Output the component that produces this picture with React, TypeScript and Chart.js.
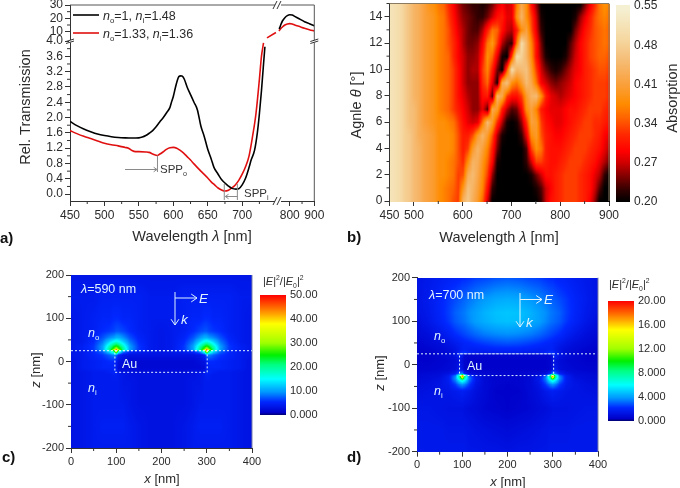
import React, { useEffect, useRef } from "react";
import { Chart, LinearScale, registerables } from "chart.js";

// ---------- panel a data ----------
const blackWavelength = [450,460,470,480,490,500,510,520,530,540,550,555,560,565,570,575,580,585,590,595,597,600,603,606,608,611,613,616,620,625,630,635,640,645,650,655,659,665,670,675,680,685,691,695,700,705,710,713,718,722,725,728,731,733,745,757,762,770,780,790,800,810,820,840,860,880,900];
const blackValues = [1.9,1.79,1.7,1.63,1.57,1.53,1.5,1.48,1.47,1.465,1.47,1.49,1.53,1.59,1.66,1.76,1.88,1.99,2.12,2.26,2.38,2.55,2.78,2.98,3.07,3.09,3.08,3.0,2.8,2.6,2.4,2.2,1.78,1.5,1.17,0.92,0.7,0.52,0.38,0.29,0.21,0.15,0.13,0.14,0.24,0.42,0.7,0.89,1.15,1.6,2.1,2.7,3.4,3.85,null,12,14.5,18,20.5,22,22.7,22.5,21.5,19.5,17.5,16,14.5];
const redWavelength = [450,460,470,480,490,500,510,520,530,535,540,545,550,560,565,570,577,580,585,590,595,600,605,610,615,620,625,630,640,650,655,660,665,670,675,680,685,690,695,700,705,710,715,720,725,728,731,734,736,749,752,756,762,770,780,790,800,810,820,840,860,880,900];
const redValues = [1.66,1.58,1.51,1.45,1.39,1.33,1.29,1.26,1.22,1.2,1.14,1.11,1.11,1.1,1.09,1.05,1.01,1.04,1.1,1.17,1.21,1.22,1.2,1.14,1.07,0.98,0.89,0.79,0.6,0.42,0.32,0.24,0.16,0.11,0.08,0.1,0.16,0.24,0.36,0.52,0.72,1.0,1.5,2.1,3.0,3.6,3.95,null,5.3,9.4,null,10.5,12,13.5,15,15.8,16,15.8,15,13.8,12.6,11.5,10.5];
const aXTicks = [450,500,550,600,650,700,800,900];
const aXMinor = [475,525,575,625,675,725,850];
const aYTicks = [0,0.4,0.8,1.2,1.6,2,2.4,2.8,3.2,3.6,4,10,20,30];
const aYMinor = [0.2,0.6,1,1.4,1.8,2.2,2.6,3,3.4,3.8,15,25];

// ---------- panel b data ----------
const bWavelengths = [450,460,470,480,490,500,510,520,530,540,550,560,570,580,590,600,610,620,630,640,650,660,670,680,690,700,710,720,730,740,750,760,770,780,790,800,810,820,830,840,850,860,870,880,890,900];
const bAngles = [0,1,2,3,4,5,6,7,8,9,10,11,12,13,14,15];
const bAbsorption = [
  [52,51,50,48,47,45,44,42,41,40, 38,37,36,34,33,44,47,43,40,35, 27,20,20,20,20,20,20,20,20,20, 20,22,27,30,31,32,33,33,33,32, 31,29,25,20,20,20],
  [52,51,50,48,47,45,44,42,41,40, 38,37,36,35,33,39,46,44,41,37, 30,22,20,20,20,20,20,20,20,20, 21,23,27,29,31,32,33,33,33,32, 31,30,27,23,20,20],
  [52,51,50,48,47,45,44,42,41,40, 38,38,37,36,33,34,43,45,42,38, 33,25,20,20,20,20,20,20,20,21, 24,27,30,30,31,32,33,33,33,32, 31,30,28,26,22,20],
  [52,51,50,48,47,45,44,42,41,40, 38,38,37,36,34,32,38,44,43,39, 35,29,21,20,20,20,20,20,22,27, 33,33,31,30,30,31,32,33,33,33, 32,31,30,28,26,24],
  [52,51,50,48,47,45,44,42,41,40, 38,38,38,37,34,31,33,40,44,41, 37,31,24,20,20,20,20,20,23,33, 38,36,31,30,30,30,31,32,33,33, 33,32,31,30,28,26],
  [52,51,50,48,47,45,43,42,41,40, 38,38,38,37,34,31,31,34,40,44, 40,34,26,21,20,20,20,22,28,38, 40,34,31,30,29,29,30,31,32,33, 33,33,32,31,29,28],
  [52,51,50,48,46,45,43,41,40,39, 38,38,37,36,33,30,28,27,28,36, 45,40,32,26,21,20,21,25,32,41, 40,33,30,29,28,28,29,30,31,32, 33,33,32,32,31,30],
  [52,51,50,48,46,45,43,41,40,39, 37,36,35,33,31,29,27,25,25,28, 23,42,40,31,26,23,24,29,38,41, 37,31,29,28,28,28,29,30,30,31, 32,33,33,33,32,31],
  [52,51,50,48,46,44,43,41,40,39, 37,36,35,33,30,28,26,25,25,30, 31,23,44,42,33,30,30,33,40,44, 45,38,31,28,27,26,27,28,29,30, 31,32,33,33,33,32],
  [52,51,50,48,46,44,43,41,40,39, 37,36,35,33,30,27,25,25,25,32, 35,28,21,42,46,38,36,40,45,42, 36,29,27,25,24,25,26,27,29,30, 31,32,33,33,33,32],
  [52,51,50,48,46,44,43,41,40,39, 37,36,35,33,30,27,25,26,26,33, 37,31,24,20,34,50,44,45,46,40, 33,27,24,22,21,22,24,26,28,29, 31,32,33,34,34,33],
  [52,51,50,48,46,44,43,41,40,39, 37,36,35,32,29,27,25,25,26,31, 38,35,28,21,20,33,50,48,44,38, 30,25,21,20,20,20,21,24,27,29, 31,33,34,35,35,34],
  [52,51,50,48,46,44,43,41,40,39, 37,36,34,32,29,26,24,24,25,29, 36,39,33,26,23,22,36,50,44,37, 30,24,20,20,20,20,20,23,26,29, 31,33,34,35,36,35],
  [52,51,50,48,46,44,43,41,40,39, 37,36,34,31,28,26,24,23,23,26, 31,36,35,30,27,26,31,38,41,34, 28,22,20,20,20,20,20,20,24,27, 30,32,34,35,36,35],
  [52,51,50,48,46,44,43,41,40,39, 37,36,33,30,27,25,24,23,22,22, 24,27,30,31,28,28,38,44,38,33, 27,21,20,20,20,20,20,20,21,25, 28,31,34,36,37,36],
  [52,51,50,48,46,44,43,41,39,38, 36,35,32,29,26,24,23,22,22,21, 22,24,27,29,27,28,36,42,38,30, 25,20,20,20,20,20,20,20,20,20, 24,28,32,36,38,37],
];
const bXTicks = [450,500,600,700,800,900];
const bXMinor = [550,650,750,850];
const bYTicks = [0,2,4,6,8,10,12,14];
const bYMinor = [1,3,5,7,9,11,13,15];
const bBarTicks = [0.2,0.27,0.34,0.41,0.48,0.55];

// ---------- panels c and d data ----------
const fieldX = [0,25,50,70,85,95,100,105,115,130,150,175,200,225,250,270,285,295,300,305,315,330,350,375,400];
const cZ = [200,150,100,70,55,45,35,30,27,24,15,0,-15,-25,-30,-50,-100,-150,-200];
const cField = [
  [3.5,3.5,3.5,3.5,3.5,3.5,3.5,3.5,3.5,3.5,3.5,3.5,3.5,3.5,3.5,3.5,3.5,3.5,3.5,3.5,3.5,3.5,3.5,3.5,3.5],
  [4,4,4,4.5,4.5,4.5,4.5,4.5,4.5,4.5,4.5,4,4,4,4.5,4.5,4.5,4.5,4.5,4.5,4.5,4.5,4.5,4,4],
  [3.5,4,4.5,5,5,5.5,5.5,5.5,5,5,4.5,4,4,4,4.5,5,5,5.5,5.5,5.5,5,5,4.5,4,3.5],
  [3.5,4,4.5,5.5,6,6.5,7,7,6.5,5.5,4.5,4,3.5,4,4.5,5.5,6.5,7,7,6.5,6,5.5,4.5,4,3.5],
  [3.5,4,5,7,9,10,11,11,9.5,7,5,4,3.5,4,5,7,9.5,11,11,10,9,7,5,4,3.5],
  [3.5,4,5.5,8.5,13,16,17,16,13,8.5,5.5,4,3.5,4,5.5,8.5,13,16,17,16,13,8.5,5.5,4,3.5],
  [3.5,4.5,6,10,18,24,26,24,18,10,6,4,3.5,4,6,10,18,24,26,24,18,10,6,4.5,3.5],
  [3.5,4.5,6,10,20,27,32,27,20,10,6,4,3.5,4,6,10,20,27,32,27,20,10,6,4.5,3.5],
  [3.5,4.5,6,10,20,32,50,32,20,10,6,4,3.5,4,6,10,20,32,50,32,20,10,6,4.5,3.5],
  [3.5,4,5.5,8,14,22,40,20,10,6,4.5,4,3.5,4,4.5,6,10,20,40,22,14,8,5.5,4,3.5],
  [3.5,4,5,6,7.5,9,8,5,3.5,3,3,3,3,3,3,3,3.5,5,8,9,7.5,6,5,4,3.5],
  [3,4,4.5,5,5.5,5.5,4.5,3,2.5,2,2,2,2,2,2,2,2.5,3,4.5,5.5,5.5,5,4.5,4,3],
  [3,4,4.5,5,5,5,4,2.5,2,2,2,2,2,2,2,2,2,2.5,4,5,5,5,4.5,4,3],
  [3,3.5,4,4,4.5,5,5,3.5,3,3,2.5,2.5,2.5,2.5,2.5,3,3,3.5,5,5,4.5,4,4,3.5,3],
  [3,3.5,4,4,4,4.5,4.5,4,3.5,3,3,3,3,3,3,3,3.5,4,4.5,4.5,4,4,4,3.5,3],
  [3,3.5,4,4,4,4,4,4,3.5,3.5,3,3,3,3,3,3.5,3.5,4,4,4,4,4,4,3.5,3],
  [3,3.5,4,4,4,4,4,4,4,3.5,3,3,3,3,3,3.5,4,4,4,4,4,4,4,3.5,3],
  [3,3.5,4,4.5,4.5,4.5,4.5,4.5,4.5,4,3.5,3,3,3,3.5,4,4.5,4.5,4.5,4.5,4.5,4.5,4,3.5,3],
  [3,3.5,4,4,4,4,4,4,4,4,3.5,3,3,3,3.5,4,4,4,4,4,4,4,4,3.5,3],
];
const dZ = [200,150,120,100,70,50,35,27,24,10,-10,-20,-25,-30,-35,-45,-60,-100,-150,-200];
const dField = [
  [1.3,1.5,1.7,1.9,2,2.1,2.2,2.2,2.3,2.5,2.6,2.8,2.9,2.8,2.6,2.5,2.3,2.2,2.2,2.1,2,1.9,1.7,1.5,1.3],
  [1.3,1.6,2,2.4,2.7,2.9,3,3.1,3.3,3.6,3.9,4.2,4.3,4.2,3.9,3.6,3.3,3.1,3,2.9,2.7,2.4,2,1.6,1.3],
  [1.2,1.5,2,2.5,3,3.2,3.3,3.4,3.7,4,4.4,4.7,4.8,4.7,4.4,4,3.7,3.4,3.3,3.2,3,2.5,2,1.5,1.2],
  [1,1.4,1.9,2.4,2.9,3.1,3.2,3.3,3.6,4,4.3,4.6,4.7,4.6,4.3,4,3.6,3.3,3.2,3.1,2.9,2.4,1.9,1.4,1],
  [0.8,1,1.4,1.8,2.2,2.4,2.5,2.6,2.8,3.1,3.4,3.6,3.7,3.6,3.4,3.1,2.8,2.6,2.5,2.4,2.2,1.8,1.4,1,0.8],
  [0.6,0.8,1,1.3,1.6,1.8,1.9,2,2.1,2.3,2.5,2.7,2.8,2.7,2.5,2.3,2.1,2,1.9,1.8,1.6,1.3,1,0.8,0.6],
  [0.5,0.6,0.8,1,1.3,1.6,1.8,1.9,1.8,1.8,1.9,2,2,2,1.9,1.8,1.8,1.9,1.8,1.6,1.3,1,0.8,0.6,0.5],
  [0.5,0.5,0.7,0.9,1.3,2,2.4,2.4,2,1.6,1.5,1.6,1.6,1.6,1.5,1.6,2,2.4,2.4,2,1.3,0.9,0.7,0.5,0.5],
  [0.5,0.5,0.7,0.9,1.3,2,1.6,0.8,0.7,0.7,0.7,0.7,0.7,0.7,0.7,0.7,0.7,0.8,1.6,2,1.3,0.9,0.7,0.5,0.5],
  [0.5,0.5,0.6,0.7,0.9,1.2,1,0.6,0.5,0.5,0.5,0.5,0.5,0.5,0.5,0.5,0.5,0.6,1,1.2,0.9,0.7,0.6,0.5,0.5],
  [0.6,0.6,0.7,0.8,1,1.6,1.2,0.6,0.5,0.5,0.5,0.5,0.5,0.5,0.5,0.5,0.5,0.6,1.2,1.6,1,0.8,0.7,0.6,0.6],
  [0.7,0.8,0.9,1.2,1.9,3.5,4,2,1,0.8,0.7,0.6,0.6,0.6,0.7,0.8,1,2,4,3.5,1.9,1.2,0.9,0.8,0.7],
  [0.8,0.9,1,1.6,3.5,9,20,9,3,1.2,0.8,0.6,0.6,0.6,0.8,1.2,3,9,20,9,3.5,1.6,1,0.9,0.8],
  [0.8,0.9,1.1,1.7,3.8,8,13,8,3.5,1.5,0.8,0.6,0.6,0.6,0.8,1.5,3.5,8,13,8,3.8,1.7,1.1,0.9,0.8],
  [0.9,1,1.2,1.7,3.5,6,7,6,3.3,1.5,0.8,0.6,0.6,0.6,0.8,1.5,3.3,6,7,6,3.5,1.7,1.2,1,0.9],
  [1,1.1,1.3,1.6,2.5,3.5,3.8,3.5,2.5,1.3,0.8,0.6,0.5,0.6,0.8,1.3,2.5,3.5,3.8,3.5,2.5,1.6,1.3,1.1,1],
  [1.1,1.2,1.3,1.4,1.6,1.7,1.8,1.7,1.5,1.1,0.8,0.5,0.5,0.5,0.8,1.1,1.5,1.7,1.8,1.7,1.6,1.4,1.3,1.2,1.1],
  [1.4,1.4,1.3,1.2,1.2,1.2,1.2,1.1,1,0.9,0.7,0.6,0.5,0.6,0.7,0.9,1,1.1,1.2,1.2,1.2,1.2,1.3,1.4,1.4],
  [1.5,1.5,1.5,1.4,1.4,1.4,1.4,1.4,1.3,1.2,1.1,1,0.9,1,1.1,1.2,1.3,1.4,1.4,1.4,1.4,1.4,1.5,1.5,1.5],
  [1.5,1.5,1.5,1.5,1.5,1.5,1.5,1.5,1.4,1.4,1.3,1.3,1.2,1.3,1.3,1.4,1.4,1.5,1.5,1.5,1.5,1.5,1.5,1.5,1.5],
];
const fieldXTicks = [0,100,200,300,400];
const fieldXMinor = [50,150,250,350];
const fieldZTicks = [-200,-100,0,100,200];
const fieldZMinor = [-150,-50,50,150];
const cBarTicks = [0,10,20,30,40,50];
const dBarTicks = [0,4,8,12,16,20];

// ---------- colour maps ----------
const absorptionStops: [number, string][] = [[20,"#000000"],[22,"#300000"],[25,"#900000"],[27,"#d00000"],[29,"#ff0000"],[32,"#ff2800"],[35,"#ff6400"],[37.5,"#ff8c00"],[41,"#faa03c"],[45.5,"#f5be78"],[49,"#f5d7a0"],[54.5,"#f5f0d2"]];
const fieldStops: [number, string][] = [[0,"#000070"],[0.02,"#0000c8"],[0.11,"#0028ff"],[0.19,"#0096ff"],[0.3,"#00ffff"],[0.42,"#00ff80"],[0.5,"#00f000"],[0.6,"#a0ff00"],[0.76,"#ffff00"],[0.9,"#ff6400"],[1,"#ff0000"]];

const FONT = '"Liberation Sans", Arial, sans-serif';
const TEXT = "#2b2b2b";
const OFF = 40;
const CW = 760;
const CH = 568;

const rgb = (h: string) => [1, 3, 5].map((i) => parseInt(h.slice(i, i + 2), 16));
function colorOf(stops: [number, string][], v: number) {
  if (v <= stops[0][0]) return rgb(stops[0][1]);
  for (let i = 1; i < stops.length; i++) {
    if (v <= stops[i][0]) {
      const t = (v - stops[i - 1][0]) / (stops[i][0] - stops[i - 1][0]);
      const a = rgb(stops[i - 1][1]);
      const b = rgb(stops[i][1]);
      return a.map((c, k) => c + (b[k] - c) * t);
    }
  }
  return rgb(stops[stops.length - 1][1]);
}
function locate(arr: number[], v: number): [number, number] {
  for (let i = 0; i < arr.length - 1; i++) {
    const a = arr[i];
    const b = arr[i + 1];
    if ((v >= a && v <= b) || (v <= a && v >= b)) return [i, (v - a) / (b - a)];
  }
  return v < arr[0] === arr[0] < arr[1] ? [0, 0] : [arr.length - 2, 1];
}
function sample(xs: number[], ys: number[], m: number[][], x: number, y: number) {
  const [i, s] = locate(xs, x);
  const [j, t] = locate(ys, y);
  const a = m[j][i] * (1 - s) + m[j][i + 1] * s;
  const b = m[j + 1][i] * (1 - s) + m[j + 1][i + 1] * s;
  return a * (1 - t) + b * t;
}

// ---------- broken axis ----------
type Seg = { v0: number; v1: number; f0: number; f1: number };
const breakTable: Record<string, Seg[]> = {
  x: [
    { v0: 450, v1: 752, f0: 0, f1: 0.8514 },
    { v0: 752, v1: 900, f0: 0.8514, f1: 1 },
  ],
  y: [
    { v0: -0.18, v1: 4, f0: 0, f1: 0.8163 },
    { v0: 3, v1: 30, f0: 0.8163, f1: 1 },
  ],
};
class BrokenScale extends LinearScale {
  static id = "broken";
  static defaults = (LinearScale as any).defaults;
  getPixelForValue(v: number) {
    const self = this as any;
    const segs = breakTable[self.axis];
    const s = v <= segs[0].v1 ? segs[0] : segs[1];
    const f = s.f0 + ((v - s.v0) / (s.v1 - s.v0)) * (s.f1 - s.f0);
    return self.axis === "x" ? self.left + f * self.width : self.bottom - f * self.height;
  }
}
Chart.register(...registerables, BrokenScale as any);

// ---------- drawing helpers ----------
type Run = { t: string; i?: boolean; b?: boolean; sub?: boolean; sup?: boolean };
function rich(ctx: any, x: number, y: number, runs: Run[], size: number, color = TEXT, opt: { rot?: number; center?: boolean } = {}) {
  const fontOf = (r: Run) => `${r.i ? "italic " : ""}${r.b ? "bold " : ""}${r.sub || r.sup ? size * 0.62 : size}px ${FONT}`;
  let w = 0;
  for (const r of runs) {
    ctx.font = fontOf(r);
    w += ctx.measureText(r.t).width;
  }
  ctx.save();
  ctx.translate(x, y);
  if (opt.rot) ctx.rotate(opt.rot);
  ctx.fillStyle = color;
  ctx.textBaseline = "alphabetic";
  ctx.textAlign = "left";
  let cx = opt.center ? -w / 2 : 0;
  const base = size * 0.36;
  for (const r of runs) {
    ctx.font = fontOf(r);
    const dy = r.sub ? size * 0.25 : r.sup ? -size * 0.42 : 0;
    ctx.fillText(r.t, cx, base + dy);
    cx += ctx.measureText(r.t).width;
  }
  ctx.restore();
}
function seg(ctx: any, x0: number, y0: number, x1: number, y1: number, color: string, w = 1) {
  ctx.strokeStyle = color;
  ctx.lineWidth = w;
  ctx.beginPath();
  ctx.moveTo(x0, y0);
  ctx.lineTo(x1, y1);
  ctx.stroke();
}
function arrow(ctx: any, x0: number, y0: number, x1: number, y1: number, color: string, w = 1, h = 5) {
  seg(ctx, x0, y0, x1, y1, color, w);
  const a = Math.atan2(y1 - y0, x1 - x0);
  ctx.beginPath();
  ctx.moveTo(x1 - h * Math.cos(a - 0.6), y1 - h * Math.sin(a - 0.6));
  ctx.lineTo(x1, y1);
  ctx.lineTo(x1 - h * Math.cos(a + 0.6), y1 - h * Math.sin(a + 0.6));
  ctx.stroke();
}
function minorTicks(ctx: any, chart: any, xMinor: number[], yMinor: number[], len = 3) {
  const x = chart.scales.x;
  const y = chart.scales.y;
  const a = chart.chartArea;
  for (const v of xMinor) {
    const p = x.getPixelForValue(v);
    seg(ctx, p, a.bottom, p, a.bottom + len, "#333");
  }
  for (const v of yMinor) {
    const p = y.getPixelForValue(v);
    seg(ctx, a.left, p, a.left - len, p, "#333");
  }
}
function overlay(fn: (ctx: any, chart: any) => void) {
  return {
    id: "overlay",
    afterDraw(chart: any) {
      const ctx = chart.ctx;
      ctx.save();
      ctx.translate(OFF, OFF);
      fn(ctx, chart);
      ctx.restore();
    },
  };
}
function heat(xs: number[], ys: number[], m: number[][], stops: [number, string][], scale = 1) {
  return {
    id: "heat",
    beforeDatasetsDraw(chart: any) {
      const { left, right, top, bottom } = chart.chartArea;
      const W = Math.round(right - left);
      const H = Math.round(bottom - top);
      const img = chart.ctx.createImageData(W, H);
      const sx = chart.scales.x;
      const sy = chart.scales.y;
      for (let j = 0; j < H; j++) {
        const yv = sy.getValueForPixel(top + j + 0.5);
        for (let i = 0; i < W; i++) {
          const xv = sx.getValueForPixel(left + i + 0.5);
          const c = colorOf(stops, sample(xs, ys, m, xv, yv) * scale);
          const k = (j * W + i) * 4;
          img.data[k] = c[0];
          img.data[k + 1] = c[1];
          img.data[k + 2] = c[2];
          img.data[k + 3] = 255;
        }
      }
      chart.ctx.putImageData(img, Math.round(left), Math.round(top));
    },
  };
}
function barFill(stops: [number, string][], scale = 1) {
  return {
    id: "barFill",
    beforeDatasetsDraw(chart: any) {
      const { left, right, top, bottom } = chart.chartArea;
      const ctx = chart.ctx;
      for (let p = Math.round(top); p < Math.round(bottom); p++) {
        const c = colorOf(stops, chart.scales.y.getValueForPixel(p + 0.5) * scale);
        ctx.fillStyle = `rgb(${c[0]},${c[1]},${c[2]})`;
        ctx.fillRect(left, p, right - left, 1);
      }
    },
  };
}
function padFor(l: number, t: number, r: number, b: number, yw = 40, xh = 20) {
  return { left: l + OFF - yw, top: t + OFF, right: CW - (r + OFF), bottom: CH - (b + OFF) - xh };
}
function axis(ticksArr: number[], fmt: (v: number) => string, size: number, extra: any = {}) {
  return {
    afterBuildTicks: (s: any) => { s.ticks = ticksArr.map((value) => ({ value })); },
    ticks: { autoSkip: false, maxRotation: 0, minRotation: 0, font: { family: FONT, size }, color: TEXT, padding: 2, callback: (v: number) => fmt(v) },
    grid: { drawOnChartArea: false, drawTicks: true, tickLength: 5, color: "#333", lineWidth: 1 },
    border: { display: true, color: "#333", width: 1 },
    ...extra,
  };
}
function baseOptions(l: number, t: number, r: number, b: number, scales: any) {
  return {
    responsive: false,
    animation: false,
    layout: { padding: padFor(l, t, r, b) },
    plugins: { legend: { display: false }, tooltip: { enabled: false } },
    scales,
  };
}
const fixW = (s: any) => { s.width = 40; };
const fixH = (s: any) => { s.height = 20; };
const pts = (xs: number[], ys: (number | null)[]) => xs.map((x, i) => ({ x, y: ys[i] }));
const frame = (ctx: any, chart: any, color = "#555") => {
  const a = chart.chartArea;
  seg(ctx, a.left - OFF, a.top - OFF, a.right - OFF, a.top - OFF, color);
  seg(ctx, a.right - OFF, a.top - OFF, a.right - OFF, a.bottom - OFF, color);
};
const grid2D = (xs: number[], ys: number[], m: number[][]) =>
  ys.flatMap((y, j) => xs.map((x, i) => ({ x, y, v: m[j][i] })));

// ---------- panel configs ----------
function panelA() {
  return {
    type: "line",
    data: {
      datasets: [
        { label: "no=1, ni=1.48", data: pts(blackWavelength, blackValues), borderColor: "#000", borderWidth: 1.6, pointRadius: 0, cubicInterpolationMode: "monotone", spanGaps: false },
        { label: "no=1.33, ni=1.36", data: pts(redWavelength, redValues), borderColor: "#e01010", borderWidth: 1.6, pointRadius: 0, cubicInterpolationMode: "monotone", spanGaps: false },
      ],
    },
    options: baseOptions(70, 5, 314.3, 201, {
      x: axis(aXTicks, (v) => String(v), 12, { type: "broken", min: 450, max: 900, afterFit: fixH }),
      y: axis(aYTicks, (v) => (v <= 4 ? v.toFixed(1) : String(v)), 12, { type: "broken", min: -0.18, max: 30, afterFit: fixW }),
    }),
    plugins: [
      overlay((ctx, chart) => {
        ctx.save();
        ctx.translate(-OFF, -OFF);
        minorTicks(ctx, chart, aXMinor, aYMinor);
        ctx.restore();
        frame(ctx, chart);
        const sx = chart.scales.x;
        const sy = chart.scales.y;
        // axis-break marks
        const bx = sx.getPixelForValue(752) - OFF;
        const by = sy.getPixelForValue(4) - OFF;
        const a = { l: chart.chartArea.left - OFF, r: chart.chartArea.right - OFF, t: chart.chartArea.top - OFF, b: chart.chartArea.bottom - OFF };
        ctx.fillStyle = "#fff";
        ctx.fillRect(bx - 3, a.t - 1, 6, 2);
        ctx.fillRect(bx - 3, a.b - 1, 6, 2);
        ctx.fillRect(a.l - 1, by - 1, 2, 2.5);
        ctx.fillRect(a.r - 1, by - 1, 2, 2.5);
        for (const y of [a.t, a.b]) {
          seg(ctx, bx - 5, y + 4, bx - 1, y - 4, "#333");
          seg(ctx, bx - 1, y + 4, bx + 3, y - 4, "#333");
        }
        for (const x of [a.l, a.r]) {
          seg(ctx, x - 4, by + 0.5, x + 4, by - 2, "#333");
          seg(ctx, x - 4, by + 2.5, x + 4, by, "#333");
        }
        // legend
        seg(ctx, 73, 15, 99, 15, "#000", 1.6);
        seg(ctx, 73, 33, 99, 33, "#e01010", 1.6);
        rich(ctx, 103, 15, [{ t: "n", i: true }, { t: "o", sub: true }, { t: "=1, " }, { t: "n", i: true }, { t: "i", sub: true }, { t: "=1.48" }], 12.5);
        rich(ctx, 103, 33, [{ t: "n", i: true }, { t: "o", sub: true }, { t: "=1.33, " }, { t: "n", i: true }, { t: "i", sub: true }, { t: "=1.36" }], 12.5);
        // SPP annotations
        const g = "#8a8a8a";
        const x1 = sx.getPixelForValue(577) - OFF;
        seg(ctx, x1, sy.getPixelForValue(1.01) - OFF, x1, 172, g);
        arrow(ctx, 125, 169.5, x1 - 0.5, 169.5, g, 1, 4);
        rich(ctx, 160, 169, [{ t: "SPP" }, { t: "o", sub: true }], 11.5, "#333");
        const x2 = sx.getPixelForValue(674) - OFF;
        const x3 = sx.getPixelForValue(693) - OFF;
        seg(ctx, x2, 184, x2, 200, g);
        seg(ctx, x3, 184, x3, 200, g);
        arrow(ctx, x3, 196.5, x2 + 1, 196.5, g, 1, 4);
        rich(ctx, 244, 192.5, [{ t: "SPP" }, { t: "i", sub: true }], 11.5, "#333");
        // titles
        rich(ctx, 192, 236, [{ t: "Wavelength " }, { t: "λ", i: true }, { t: " [nm]" }], 14.5, TEXT, { center: true });
        rich(ctx, 25, 107, [{ t: "Rel. Transmission" }], 14.5, TEXT, { center: true, rot: -Math.PI / 2 });
        rich(ctx, 0, 238, [{ t: "a)", b: true }], 15, "#111");
      }),
    ],
  };
}
function panelB() {
  return {
    type: "scatter",
    data: { datasets: [{ label: "Absorption", data: grid2D(bWavelengths, bAngles, bAbsorption), pointRadius: 0 }] },
    options: baseOptions(389.5, 3.5, 609, 201, {
      x: axis(bXTicks, (v) => String(v), 12, { type: "linear", min: 450, max: 900, afterFit: fixH }),
      y: axis(bYTicks, (v) => String(v), 12, { type: "linear", min: 0, max: 15, afterFit: fixW }),
    }),
    plugins: [
      heat(bWavelengths, bAngles, bAbsorption, absorptionStops),
      overlay((ctx, chart) => {
        ctx.save();
        ctx.translate(-OFF, -OFF);
        minorTicks(ctx, chart, bXMinor, bYMinor);
        ctx.restore();
        frame(ctx, chart, "#8a7a60");
        rich(ctx, 499, 237, [{ t: "Wavelength " }, { t: "λ", i: true }, { t: " [nm]" }], 14.5, TEXT, { center: true });
        rich(ctx, 356, 105, [{ t: "Agnle " }, { t: "θ", i: true }, { t: " [°]" }], 14.5, TEXT, { center: true, rot: -Math.PI / 2 });
        rich(ctx, 672, 98, [{ t: "Absorption" }], 14.5, TEXT, { center: true, rot: -Math.PI / 2 });
        rich(ctx, 347, 237, [{ t: "b)", b: true }], 15, "#111");
      }),
    ],
  };
}
function colorBar(l: number, t: number, r: number, b: number, min: number, max: number, ticksArr: number[], fmt: (v: number) => string, stops: [number, string][], scale: number, size: number, pad: number) {
  return {
    type: "scatter",
    data: { datasets: [] },
    options: {
      responsive: false,
      animation: false,
      layout: { padding: { left: l + OFF, top: t + OFF, right: CW - (r + OFF) - 40, bottom: CH - (b + OFF) } },
      plugins: { legend: { display: false }, tooltip: { enabled: false } },
      scales: {
        x: { display: false, min: 0, max: 1 },
        y: {
          position: "right",
          min,
          max,
          afterBuildTicks: (s: any) => { s.ticks = ticksArr.map((value) => ({ value })); },
          afterFit: fixW,
          ticks: { autoSkip: false, font: { family: FONT, size }, color: TEXT, padding: pad, callback: (v: number) => fmt(v) },
          grid: { display: false, drawTicks: false },
          border: { display: false },
        },
      },
    },
    plugins: [barFill(stops, scale)],
  };
}
function fieldPanel(l: number, t: number, r: number, b: number, zs: number[], m: number[][], maxV: number, info: any) {
  return {
    type: "scatter",
    data: { datasets: [{ label: "|E|²/|E0|²", data: grid2D(fieldX, zs, m), pointRadius: 0 }] },
    options: baseOptions(l, t, r, b, {
      x: axis(fieldXTicks, (v) => String(v), 11, { type: "linear", min: 0, max: 400, afterFit: fixH }),
      y: axis(fieldZTicks, (v) => String(v), 11, { type: "linear", min: -200, max: 200, afterFit: fixW }),
    }),
    plugins: [
      heat(fieldX, zs, m, fieldStops, 1 / maxV),
      overlay((ctx, chart) => {
        ctx.save();
        ctx.translate(-OFF, -OFF);
        minorTicks(ctx, chart, fieldXMinor, fieldZMinor);
        ctx.restore();
        const a = chart.chartArea;
        seg(ctx, a.right - OFF, a.top - OFF, a.right - OFF, a.bottom - OFF, "#7a7fa8");
        const sx = chart.scales.x;
        const sy = chart.scales.y;
        const W = "#dff4ff";
        const px = (v: number) => sx.getPixelForValue(v) - OFF;
        const py = (v: number) => sy.getPixelForValue(v) - OFF;
        ctx.save();
        ctx.setLineDash([2, 2]);
        seg(ctx, a.left - OFF, py(25), info.dashEnd, py(25), W);
        ctx.strokeStyle = W;
        ctx.lineWidth = 1;
        ctx.strokeRect(px(info.rx0), py(25), px(info.rx1) - px(info.rx0), py(-25) - py(25));
        ctx.restore();
        const c = info;
        rich(ctx, c.lamX, c.lamY, [{ t: "λ", i: true }, { t: c.lam }], 12.5, W);
        arrow(ctx, c.ax, c.ay0, c.ax, c.ay1, W, 1, 7);
        arrow(ctx, c.ax, c.hy, c.hx, c.hy, W, 1, 7);
        rich(ctx, c.hx + 2, c.hy, [{ t: "E", i: true }], 13.5, W);
        rich(ctx, c.ax + 6, c.ky, [{ t: "k", i: true }], 13.5, W);
        rich(ctx, c.nx, c.noY, [{ t: "n", i: true }, { t: "o", sub: true }], 12.5, W);
        rich(ctx, c.nx, c.niY, [{ t: "n", i: true }, { t: "i", sub: true }], 12.5, W);
        rich(ctx, c.auX, c.auY, [{ t: "Au" }], 12.5, W);
        rich(ctx, c.xtX, c.xtY, [{ t: "x", i: true }, { t: " [nm]" }], 13, TEXT, { center: true });
        rich(ctx, c.ytX, c.ytY, [{ t: "z", i: true }, { t: " [nm]" }], 13, TEXT, { center: true, rot: -Math.PI / 2 });
        rich(ctx, c.labX, c.labY, [{ t: c.lab, b: true }], 15, "#111");
        rich(ctx, c.cbX, c.cbY, [{ t: "|" }, { t: "E", i: true }, { t: "|" }, { t: "2", sup: true }, { t: "/|" }, { t: "E", i: true }, { t: "0", sub: true }, { t: "|" }, { t: "2", sup: true }], 11);
      }),
    ],
  };
}
const fmt4 = (v: number) => (v === 0 ? "0.000" : v < 10 ? v.toFixed(3) : v.toFixed(2));
const buildConfigs = () => [
  panelA(),
  panelB(),
  colorBar(616, 5, 630, 201.5, 0.2, 0.552, bBarTicks, (v) => v.toFixed(2), absorptionStops, 100, 12, 4),
  fieldPanel(71, 275, 252, 448, cZ, cField, 50, {
    dashEnd: 252, rx0: 97, rx1: 301, lamX: 81, lamY: 288, lam: "=590 nm", ax: 175, ay0: 292, ay1: 325, hy: 298, hx: 197, ky: 319,
    nx: 88, noY: 332, niY: 387, auX: 122, auY: 363, xtX: 162, xtY: 478, ytX: 35, ytY: 370, lab: "c)", labX: 2, labY: 457, cbX: 263, cbY: 281,
  }),
  colorBar(260, 295, 286, 415, 0, 50, cBarTicks, fmt4, fieldStops, 1 / 50, 11, 4),
  fieldPanel(417, 277.7, 598, 451.7, dZ, dField, 20, {
    dashEnd: 597, rx0: 94, rx1: 302, lamX: 429, lamY: 294, lam: "=700 nm", ax: 520, ay0: 293, ay1: 327, hy: 299.5, hx: 542, ky: 322,
    nx: 434, noY: 335, niY: 390, auX: 467, auY: 365, xtX: 508, xtY: 481, ytX: 379, ytY: 373, lab: "d)", labX: 347, labY: 457, cbX: 609, cbY: 284,
  }),
  colorBar(608, 301, 634, 421, 0, 20, dBarTicks, fmt4, fieldStops, 1 / 20, 11, 4),
];

function Panel({ make }: { make: () => any }) {
  const ref = useRef<HTMLCanvasElement>(null);
  useEffect(() => {
    const chart = new Chart(ref.current as any, make());
    return () => chart.destroy();
  }, []);
  return <canvas ref={ref} width={CW} height={CH} style={{ position: "absolute", left: -OFF, top: -OFF, width: CW, height: CH }} />;
}

export default function App() {
  const makers = buildConfigs().map((_, i) => () => buildConfigs()[i]);
  return (
    <div style={{ position: "absolute", left: 0, top: 0, width: 680, height: 488, overflow: "hidden", background: "#fff" }}>
      {makers.map((m, i) => (
        <Panel key={i} make={m} />
      ))}
    </div>
  );
}
